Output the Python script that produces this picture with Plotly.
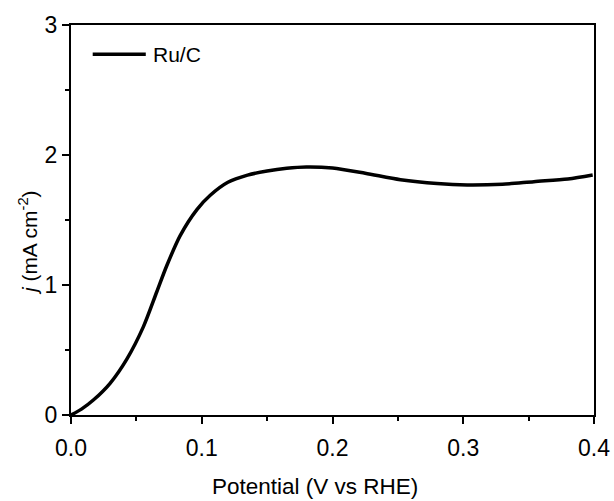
import plotly.graph_objects as go

potential = [0.0, 0.008, 0.0171, 0.0299, 0.0427, 0.0554, 0.0657, 0.0733, 0.0835, 0.0963, 0.1065,
             0.12, 0.135, 0.15, 0.165, 0.18, 0.2, 0.225, 0.252, 0.28, 0.303, 0.33, 0.354, 0.38, 0.399]
current = [0.0, 0.045, 0.115, 0.244, 0.43, 0.68, 0.95, 1.15, 1.38, 1.58, 1.69,
           1.79, 1.845, 1.877, 1.898, 1.908, 1.90, 1.86, 1.81, 1.78, 1.769, 1.775, 1.795, 1.815, 1.846]
series_name = "Ru/C"
x_title = "Potential (V vs RHE)"
y_title = "<i>j</i> (mA cm<sup>-2</sup>)"

font = "Liberation Sans, Arial, sans-serif"

fig = go.Figure()
fig.add_trace(go.Scatter(x=potential, y=current, mode="lines", name=series_name,
                         line=dict(color="black", width=3.5, shape="spline", smoothing=0.8),
                         showlegend=False))

axis_common = dict(showline=True, linecolor="black", linewidth=2, mirror=True,
                   ticks="outside", ticklen=7, tickwidth=2, tickcolor="black",
                   showgrid=False, zeroline=False, automargin=False,
                   tickfont=dict(family=font, size=23, color="black"))

fig.update_xaxes(range=[0, 0.4], dtick=0.1, tickformat=".1f", ticklabelstandoff=4,
                 minor=dict(ticks="outside", ticklen=4, tickwidth=2, dtick=0.05, tickcolor="black"),
                 **axis_common)
fig.update_yaxes(range=[0, 3], dtick=1,
                 minor=dict(ticks="outside", ticklen=4, tickwidth=2, dtick=0.5, tickcolor="black"),
                 **axis_common)

# axis titles placed as annotations to match the reference offsets
fig.add_annotation(xref="paper", yref="paper", x=0.4665, y=-0.1846, xanchor="center", yanchor="middle",
                   text=x_title, showarrow=False, font=dict(family=font, size=22.5, color="black"))
fig.add_annotation(xref="paper", yref="paper", x=-0.082, y=0.441, xanchor="center", yanchor="middle",
                   text=y_title, showarrow=False, textangle=-90,
                   font=dict(family=font, size=21, color="black"))

# legend key drawn by hand to match the long sample line
fig.add_shape(type="line", xref="paper", yref="paper", x0=0.0415, x1=0.1430, y0=0.9249, y1=0.9249,
              line=dict(color="black", width=3.5))
fig.add_annotation(xref="paper", yref="paper", x=0.1535, y=0.9249, xanchor="left", yanchor="middle",
                   text=series_name, showarrow=False, font=dict(family=font, size=21, color="black"))

fig.update_layout(width=614, height=501, margin=dict(l=71, r=20, t=25, b=86),
                  plot_bgcolor="white", paper_bgcolor="white", showlegend=False)

fig.write_html("out.html")
